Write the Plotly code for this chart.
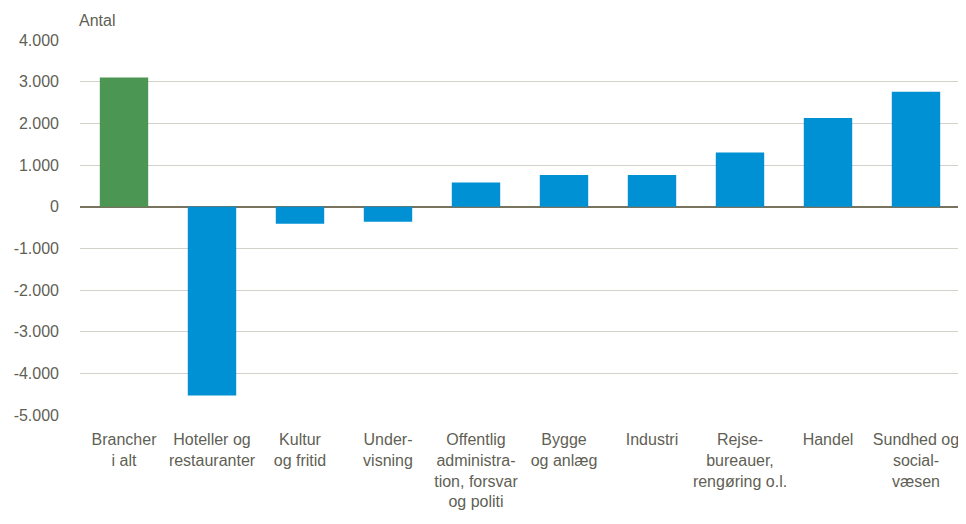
import plotly.graph_objects as go

categories = ["Brancher<br>i alt", "Hoteller og<br>restauranter", "Kultur<br>og fritid", "Under-<br>visning",
              "Offentlig<br>administra-<br>tion, forsvar<br>og politi", "Bygge<br>og anlæg", "Industri",
              "Rejse-<br>bureauer,<br>rengøring o.l.", "Handel", "Sundhed og<br>social-<br>væsen"]
values = [3100, -4530, -410, -360, 580, 760, 760, 1300, 2130, 2760]
colors = ["#4a9652"] + ["#0090d4"] * 9
tick_vals = [4000, 3000, 2000, 1000, 0, -1000, -2000, -3000, -4000, -5000]
tick_text = ["4.000", "3.000", "2.000", "1.000", "0", "-1.000", "-2.000", "-3.000", "-4.000", "-5.000"]

font_family = "Liberation Sans, Arial, sans-serif"
text_color = "#5f5f55"

fig = go.Figure(go.Bar(x=categories, y=values, marker=dict(color=colors, line=dict(width=0))))
fig.update_layout(
    width=958, height=516,
    margin=dict(l=72, r=6, t=32, b=109),
    plot_bgcolor="white", paper_bgcolor="white",
    bargap=0.45,
    showlegend=False,
    font=dict(family=font_family, size=16, color=text_color),
)
fig.add_annotation(text="Antal", xref="paper", yref="paper", x=0.0, y=1.0, yshift=20, xshift=-3,
                   xanchor="left", yanchor="middle", showarrow=False,
                   font=dict(family=font_family, size=16, color=text_color))
fig.update_yaxes(range=[-5000, 4000], tickvals=tick_vals, ticktext=tick_text, showgrid=True,
                 gridcolor="#d3d2cb", gridwidth=1, zeroline=True, zerolinecolor="#77735f", zerolinewidth=2,
                 ticks="", ticklabelstandoff=20, showline=False, automargin=False)
fig.update_xaxes(showgrid=False, ticks="", showline=False, tickangle=0, ticklabelstandoff=13,
                 automargin=False)
fig.write_html("out.html")
